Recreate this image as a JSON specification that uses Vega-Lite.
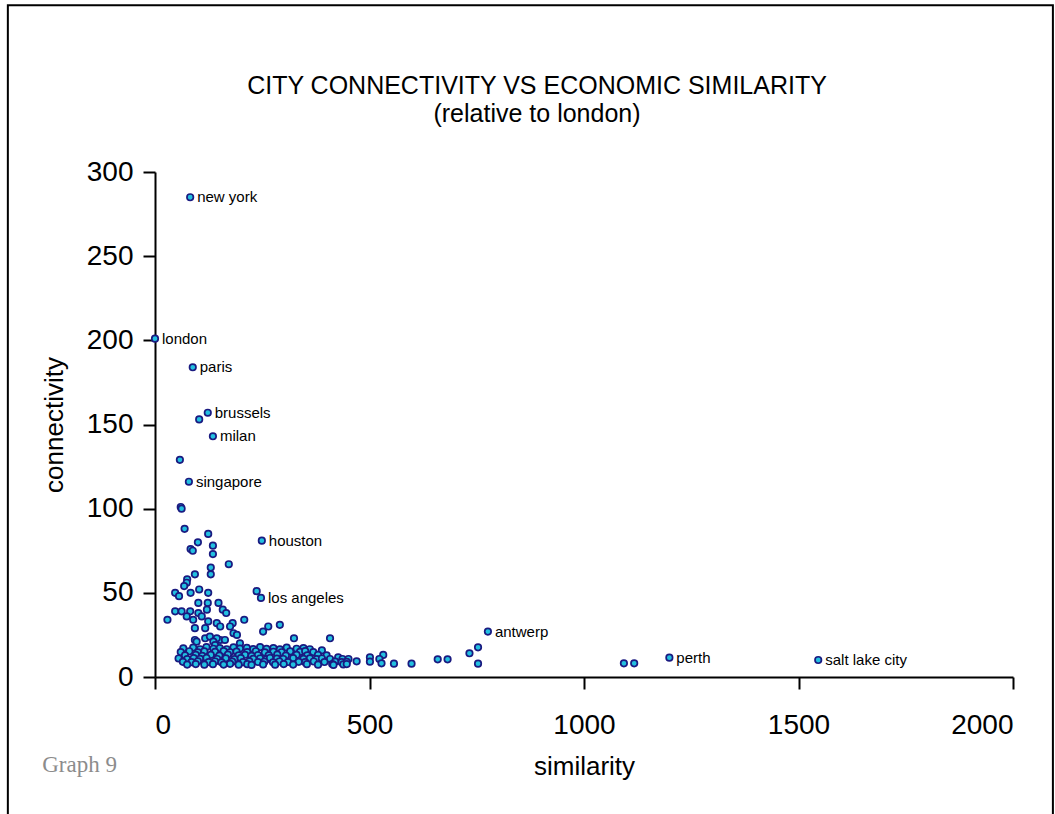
{
  "$schema": "https://vega.github.io/schema/vega-lite/v6.json",
  "autosize": "none",
  "width": 858,
  "height": 505,
  "padding": {"left": 155, "top": 172, "right": 42, "bottom": 137},
  "background": "white",
  "title": {
    "text": ["CITY CONNECTIVITY VS ECONOMIC SIMILARITY", "(relative to london)"],
    "font": "Liberation Sans",
    "fontSize": 25,
    "fontWeight": "normal",
    "lineHeight": 28,
    "color": "black",
    "anchor": "middle",
    "dx": -47,
    "offset": -123
  },
  "config": {
    "view": {"stroke": null},
    "axis": {
      "grid": false,
      "domainColor": "black",
      "domainWidth": 2,
      "tickColor": "black",
      "tickWidth": 2,
      "tickSize": 12,
      "labelFont": "Liberation Sans",
      "labelFontSize": 28,
      "labelColor": "black",
      "titleFont": "Liberation Sans",
      "titleFontSize": 26,
      "titleFontWeight": "normal",
      "titleColor": "black"
    }
  },
  "data": {
    "values": [
      {"similarity": 82, "connectivity": 285, "city": "new york"},
      {"similarity": 0, "connectivity": 201, "city": "london"},
      {"similarity": 88, "connectivity": 184, "city": "paris"},
      {"similarity": 123, "connectivity": 157, "city": "brussels"},
      {"similarity": 103, "connectivity": 153},
      {"similarity": 135, "connectivity": 143, "city": "milan"},
      {"similarity": 58, "connectivity": 129},
      {"similarity": 79, "connectivity": 116, "city": "singapore"},
      {"similarity": 60, "connectivity": 101},
      {"similarity": 62, "connectivity": 100},
      {"similarity": 69, "connectivity": 88},
      {"similarity": 124, "connectivity": 85},
      {"similarity": 100, "connectivity": 80},
      {"similarity": 83, "connectivity": 76},
      {"similarity": 88, "connectivity": 75},
      {"similarity": 135, "connectivity": 78},
      {"similarity": 135, "connectivity": 73},
      {"similarity": 249, "connectivity": 81, "city": "houston"},
      {"similarity": 172, "connectivity": 67},
      {"similarity": 130, "connectivity": 65},
      {"similarity": 130, "connectivity": 61},
      {"similarity": 93, "connectivity": 61},
      {"similarity": 75, "connectivity": 58},
      {"similarity": 74, "connectivity": 56},
      {"similarity": 68, "connectivity": 54},
      {"similarity": 47, "connectivity": 50},
      {"similarity": 56, "connectivity": 48},
      {"similarity": 83, "connectivity": 50},
      {"similarity": 103, "connectivity": 52},
      {"similarity": 124, "connectivity": 50},
      {"similarity": 237, "connectivity": 51},
      {"similarity": 247, "connectivity": 47, "city": "los angeles"},
      {"similarity": 101, "connectivity": 44},
      {"similarity": 123, "connectivity": 44},
      {"similarity": 148, "connectivity": 44},
      {"similarity": 47, "connectivity": 39},
      {"similarity": 62, "connectivity": 39},
      {"similarity": 82, "connectivity": 39},
      {"similarity": 101, "connectivity": 38},
      {"similarity": 121, "connectivity": 40},
      {"similarity": 158, "connectivity": 40},
      {"similarity": 166, "connectivity": 38},
      {"similarity": 29, "connectivity": 34},
      {"similarity": 74, "connectivity": 36},
      {"similarity": 89, "connectivity": 34},
      {"similarity": 109, "connectivity": 36},
      {"similarity": 124, "connectivity": 33},
      {"similarity": 144, "connectivity": 32},
      {"similarity": 152, "connectivity": 30},
      {"similarity": 181, "connectivity": 32},
      {"similarity": 175, "connectivity": 30},
      {"similarity": 208, "connectivity": 34},
      {"similarity": 93, "connectivity": 29},
      {"similarity": 117, "connectivity": 29},
      {"similarity": 183, "connectivity": 26},
      {"similarity": 191, "connectivity": 25},
      {"similarity": 252, "connectivity": 27},
      {"similarity": 264, "connectivity": 30},
      {"similarity": 291, "connectivity": 31},
      {"similarity": 324, "connectivity": 23},
      {"similarity": 408, "connectivity": 23},
      {"similarity": 117, "connectivity": 23},
      {"similarity": 128, "connectivity": 24},
      {"similarity": 152, "connectivity": 22},
      {"similarity": 163, "connectivity": 22},
      {"similarity": 93, "connectivity": 22},
      {"similarity": 144, "connectivity": 23},
      {"similarity": 136, "connectivity": 21},
      {"similarity": 140, "connectivity": 19},
      {"similarity": 97, "connectivity": 21},
      {"similarity": 198, "connectivity": 20},
      {"similarity": 776, "connectivity": 27, "city": "antwerp"},
      {"similarity": 66, "connectivity": 17},
      {"similarity": 89, "connectivity": 17.5},
      {"similarity": 105, "connectivity": 16.5},
      {"similarity": 120, "connectivity": 17.8},
      {"similarity": 136, "connectivity": 16.8},
      {"similarity": 151, "connectivity": 17.2},
      {"similarity": 167, "connectivity": 16.5},
      {"similarity": 183, "connectivity": 17.6},
      {"similarity": 198, "connectivity": 16.9},
      {"similarity": 214, "connectivity": 17.3},
      {"similarity": 229, "connectivity": 16.6},
      {"similarity": 245, "connectivity": 17.8},
      {"similarity": 260, "connectivity": 16.7},
      {"similarity": 276, "connectivity": 17.1},
      {"similarity": 291, "connectivity": 16.4},
      {"similarity": 307, "connectivity": 17.5},
      {"similarity": 330, "connectivity": 16.8},
      {"similarity": 346, "connectivity": 17.2},
      {"similarity": 361, "connectivity": 16.5},
      {"similarity": 389, "connectivity": 15.8},
      {"similarity": 60, "connectivity": 14.8},
      {"similarity": 80, "connectivity": 15.3},
      {"similarity": 100, "connectivity": 14.6},
      {"similarity": 115, "connectivity": 15.2},
      {"similarity": 140, "connectivity": 14.9},
      {"similarity": 160, "connectivity": 15.4},
      {"similarity": 175, "connectivity": 14.7},
      {"similarity": 190, "connectivity": 15.1},
      {"similarity": 215, "connectivity": 14.8},
      {"similarity": 235, "connectivity": 15.3},
      {"similarity": 256, "connectivity": 14.6},
      {"similarity": 276, "connectivity": 15.0},
      {"similarity": 295, "connectivity": 14.7},
      {"similarity": 315, "connectivity": 15.2},
      {"similarity": 338, "connectivity": 14.9},
      {"similarity": 350, "connectivity": 15.4},
      {"similarity": 369, "connectivity": 14.8},
      {"similarity": 70, "connectivity": 12.8},
      {"similarity": 95, "connectivity": 13.2},
      {"similarity": 110, "connectivity": 12.6},
      {"similarity": 130, "connectivity": 13.1},
      {"similarity": 150, "connectivity": 12.7},
      {"similarity": 170, "connectivity": 13.3},
      {"similarity": 195, "connectivity": 12.9},
      {"similarity": 210, "connectivity": 13.2},
      {"similarity": 225, "connectivity": 12.6},
      {"similarity": 240, "connectivity": 13.0},
      {"similarity": 265, "connectivity": 12.8},
      {"similarity": 285, "connectivity": 13.3},
      {"similarity": 305, "connectivity": 12.7},
      {"similarity": 330, "connectivity": 13.1},
      {"similarity": 355, "connectivity": 12.9},
      {"similarity": 380, "connectivity": 13.2},
      {"similarity": 400, "connectivity": 12.8},
      {"similarity": 532, "connectivity": 13.1},
      {"similarity": 55, "connectivity": 11.0},
      {"similarity": 75, "connectivity": 10.6},
      {"similarity": 90, "connectivity": 11.2},
      {"similarity": 105, "connectivity": 10.8},
      {"similarity": 120, "connectivity": 11.3},
      {"similarity": 145, "connectivity": 10.7},
      {"similarity": 165, "connectivity": 11.1},
      {"similarity": 185, "connectivity": 10.6},
      {"similarity": 200, "connectivity": 11.2},
      {"similarity": 229, "connectivity": 10.8},
      {"similarity": 245, "connectivity": 11.0},
      {"similarity": 260, "connectivity": 10.6},
      {"similarity": 268, "connectivity": 11.3},
      {"similarity": 284, "connectivity": 10.9},
      {"similarity": 299, "connectivity": 10.7},
      {"similarity": 322, "connectivity": 11.2},
      {"similarity": 346, "connectivity": 10.8},
      {"similarity": 361, "connectivity": 11.1},
      {"similarity": 377, "connectivity": 10.6},
      {"similarity": 389, "connectivity": 11.0},
      {"similarity": 408, "connectivity": 10.7},
      {"similarity": 427, "connectivity": 11.7},
      {"similarity": 437, "connectivity": 10.7},
      {"similarity": 451, "connectivity": 10.7},
      {"similarity": 470, "connectivity": 9.3},
      {"similarity": 501, "connectivity": 11.7},
      {"similarity": 523, "connectivity": 10.7},
      {"similarity": 659, "connectivity": 10.5},
      {"similarity": 682, "connectivity": 10.5},
      {"similarity": 65, "connectivity": 9.0},
      {"similarity": 85, "connectivity": 8.8},
      {"similarity": 100, "connectivity": 9.3},
      {"similarity": 125, "connectivity": 8.9},
      {"similarity": 140, "connectivity": 9.2},
      {"similarity": 155, "connectivity": 8.7},
      {"similarity": 180, "connectivity": 9.1},
      {"similarity": 205, "connectivity": 8.8},
      {"similarity": 220, "connectivity": 9.3},
      {"similarity": 240, "connectivity": 8.9},
      {"similarity": 255, "connectivity": 9.1},
      {"similarity": 275, "connectivity": 8.7},
      {"similarity": 290, "connectivity": 9.2},
      {"similarity": 310, "connectivity": 8.9},
      {"similarity": 335, "connectivity": 9.0},
      {"similarity": 350, "connectivity": 8.8},
      {"similarity": 370, "connectivity": 9.2},
      {"similarity": 395, "connectivity": 8.9},
      {"similarity": 420, "connectivity": 9.1},
      {"similarity": 435, "connectivity": 8.8},
      {"similarity": 447, "connectivity": 9.0},
      {"similarity": 501, "connectivity": 9.1},
      {"similarity": 75, "connectivity": 7.4},
      {"similarity": 95, "connectivity": 7.7},
      {"similarity": 115, "connectivity": 7.3},
      {"similarity": 135, "connectivity": 7.6},
      {"similarity": 160, "connectivity": 7.4},
      {"similarity": 175, "connectivity": 7.8},
      {"similarity": 195, "connectivity": 7.3},
      {"similarity": 215, "connectivity": 7.6},
      {"similarity": 225, "connectivity": 7.2},
      {"similarity": 252, "connectivity": 7.5},
      {"similarity": 280, "connectivity": 7.3},
      {"similarity": 300, "connectivity": 7.7},
      {"similarity": 322, "connectivity": 7.4},
      {"similarity": 354, "connectivity": 7.6},
      {"similarity": 380, "connectivity": 7.3},
      {"similarity": 413, "connectivity": 7.7},
      {"similarity": 416, "connectivity": 7.2},
      {"similarity": 439, "connectivity": 7.5},
      {"similarity": 447, "connectivity": 7.7},
      {"similarity": 528, "connectivity": 8.1},
      {"similarity": 557, "connectivity": 7.9},
      {"similarity": 598, "connectivity": 7.9},
      {"similarity": 733, "connectivity": 14.1},
      {"similarity": 753, "connectivity": 17.6},
      {"similarity": 753, "connectivity": 7.9},
      {"similarity": 1093, "connectivity": 8.1},
      {"similarity": 1117, "connectivity": 8.1},
      {"similarity": 1199, "connectivity": 11.5, "city": "perth"},
      {"similarity": 1546, "connectivity": 10.1, "city": "salt lake city"}
    ]
  },
  "layer": [
    {
      "data": {"values": [{"x0": -343, "x1": 2093, "y0": 399, "y1": -95}]},
      "mark": {"type": "rect", "fill": null, "stroke": "black", "strokeWidth": 2, "clip": false},
      "encoding": {
        "x": {"field": "x0", "type": "quantitative", "scale": {"domain": [0, 2000]}},
        "x2": {"field": "x1"},
        "y": {"field": "y0", "type": "quantitative", "scale": {"domain": [0, 300]}},
        "y2": {"field": "y1"}
      }
    },
    {
      "mark": {"type": "point", "filled": true, "size": 42, "fill": "#22C0E0", "stroke": "#1A1A80", "strokeWidth": 1.7, "opacity": 1},
      "encoding": {
        "x": {
          "field": "similarity", "type": "quantitative",
          "scale": {"domain": [0, 2000], "nice": false, "zero": true},
          "axis": {"values": [0, 500, 1000, 1500, 2000], "format": "d", "title": "similarity", "labelPadding": 22, "titlePadding": 14}
        },
        "y": {
          "field": "connectivity", "type": "quantitative",
          "scale": {"domain": [0, 300], "nice": false},
          "axis": {"values": [0, 50, 100, 150, 200, 250, 300], "format": "d", "title": "connectivity", "labelPadding": 10, "titlePadding": 19}
        }
      }
    },
    {
      "transform": [{"filter": "isValid(datum.city)"}],
      "mark": {"type": "text", "align": "left", "baseline": "middle", "dx": 7, "font": "Liberation Sans", "fontSize": 15, "color": "black"},
      "encoding": {
        "x": {"field": "similarity", "type": "quantitative"},
        "y": {"field": "connectivity", "type": "quantitative"},
        "text": {"field": "city"}
      }
    },
    {
      "data": {"values": [{"note": "Graph 9", "px": -263, "py": -52}]},
      "mark": {"type": "text", "align": "left", "baseline": "middle", "font": "Liberation Serif", "fontSize": 23, "color": "#8C8C8C", "clip": false},
      "encoding": {
        "x": {"field": "px", "type": "quantitative"},
        "y": {"field": "py", "type": "quantitative"},
        "text": {"field": "note"}
      }
    }
  ]
}
